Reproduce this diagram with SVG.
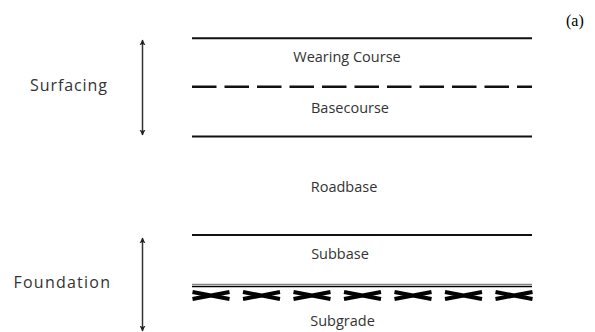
<svg xmlns="http://www.w3.org/2000/svg" width="595" height="332" viewBox="0 0 595 332">
  <style>
    .lbl { font-family: "Open Sans", "Liberation Sans", sans-serif; font-size: 14.5px; fill: #333; text-anchor: middle; }
    .side { font-family: "Open Sans", "Liberation Sans", sans-serif; font-size: 16px; fill: #333; }
    .tag { font-family: "Liberation Serif", "Times New Roman", serif; font-size: 16px; fill: #000; }
    .bound { stroke: #111; stroke-width: 2; fill: none; }
    .dash { stroke: #111; stroke-width: 2.6; stroke-dasharray: 24.5 8; fill: none; }
    .dim { stroke: #333; stroke-width: 1.5; fill: none; }
    .cross { stroke: #000; stroke-width: 4; fill: none; }
  </style>
  <defs>
    <marker id="head" viewBox="0 0 10 10" refX="9" refY="5" markerWidth="6" markerHeight="7" markerUnits="userSpaceOnUse" orient="auto-start-reverse">
      <path d="M0,0 L10,5 L0,10 L2.5,5 Z" fill="#222"/>
    </marker>
    <!-- flattened cross used for the subgrade hatching -->
    <path id="x" d="M0,292 L37,299 M0,299 L37,292" class="cross"/>
  </defs>

  <rect width="595" height="332" fill="#fff"/>

  <text class="tag" x="566" y="26">(a)</text>

  <!-- layer boundaries -->
  <g id="boundaries">
    <line class="bound" x1="192" y1="38.3" x2="532" y2="38.3"/>
    <line class="dash" x1="192" y1="86.7" x2="532" y2="86.7"/>
    <line class="bound" x1="192" y1="136.5" x2="532" y2="136.5"/>
    <line class="bound" x1="192" y1="235" x2="532" y2="235"/>
    <line x1="192" y1="284.3" x2="532" y2="284.3" stroke="#666" stroke-width="1"/>
    <line x1="192" y1="286.5" x2="532" y2="286.5" stroke="#000" stroke-width="1.6"/>
  </g>

  <!-- subgrade hatching -->
  <g id="subgrade-hatch">
    <use href="#x" x="192.5"/>
    <use href="#x" x="243"/>
    <use href="#x" x="293.5"/>
    <use href="#x" x="344"/>
    <use href="#x" x="394.5"/>
    <use href="#x" x="445"/>
    <use href="#x" x="495.5"/>
  </g>

  <!-- layer names -->
  <g id="wearing-course"><text class="lbl" x="347" y="61.5">Wearing Course</text></g>
  <g id="basecourse"><text class="lbl" x="350" y="113">Basecourse</text></g>
  <g id="roadbase"><text class="lbl" x="344" y="192">Roadbase</text></g>
  <g id="subbase"><text class="lbl" x="340" y="259">Subbase</text></g>
  <g id="subgrade"><text class="lbl" x="342.5" y="326">Subgrade</text></g>

  <!-- groupings -->
  <g id="surfacing">
    <text class="side" x="30" y="91" textLength="77" lengthAdjust="spacing">Surfacing</text>
  </g>
  <g id="foundation">
    <text class="side" x="13.5" y="288" textLength="96.5" lengthAdjust="spacing">Foundation</text>
  </g>

  <g id="connectors">
    <line class="dim" x1="142.5" y1="40" x2="142.5" y2="135" marker-start="url(#head)" marker-end="url(#head)"/>
    <line class="dim" x1="142.5" y1="238" x2="142.5" y2="331" marker-start="url(#head)" marker-end="url(#head)"/>
  </g>
</svg>
